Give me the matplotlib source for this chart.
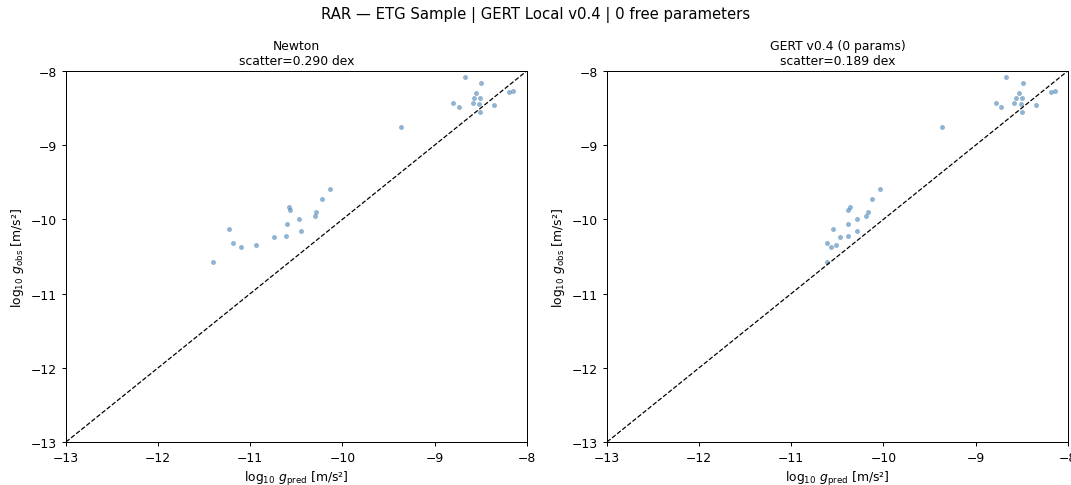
import matplotlib
matplotlib.use("Agg")
import matplotlib.pyplot as plt
import numpy as np

# observed accelerations (log10 m/s^2), shared by both panels
g_obs = [-10.57, -10.13, -10.32, -10.37, -10.34, -10.24, -10.22, -10.06,
         -9.84, -9.88, -10.00, -10.16, -9.96, -9.90, -9.72, -9.59,
         -8.755,
         -8.085, -8.16, -8.43, -8.49, -8.30, -8.36, -8.36, -8.43,
         -8.445, -8.56, -8.46, -8.28, -8.27]

# Newtonian prediction
g_newton = [-11.41, -11.23, -11.19, -11.10, -10.94, -10.74, -10.61, -10.60,
            -10.58, -10.57, -10.47, -10.45, -10.30, -10.29, -10.22, -10.13,
            -9.37,
            -8.67, -8.50, -8.80, -8.74, -8.55, -8.575, -8.51, -8.58,
            -8.52, -8.51, -8.355, -8.19, -8.15]

# GERT v0.4 prediction
g_gert = [-10.61, -10.55, -10.61, -10.57, -10.52, -10.47, -10.39, -10.38,
          -10.36, -10.38, -10.29, -10.285, -10.19, -10.17, -10.12, -10.04,
          -9.37,
          -8.67, -8.49, -8.78, -8.73, -8.53, -8.56, -8.495, -8.58,
          -8.51, -8.495, -8.34, -8.18, -8.14]

panels = [
    ("Newton", 0.290, g_newton),
    ("GERT v0.4 (0 params)", 0.189, g_gert),
]

DPI = 89
fig, axes = plt.subplots(1, 2, figsize=(1071 / DPI, 486 / DPI), dpi=DPI)
fig.subplots_adjust(left=0.0616, right=0.997, bottom=0.0885, top=0.852, wspace=0.174)

for ax, (name, scat, g_pred) in zip(axes, panels):
    ax.scatter(g_pred, g_obs, s=16, color="steelblue", alpha=0.6, linewidths=0)
    ax.plot([-13, -8], [-13, -8], "k--", lw=1)
    ax.set_xlim(-13, -8)
    ax.set_ylim(-13, -8)
    ax.set_xticks(np.arange(-13, -7))
    ax.set_yticks(np.arange(-13, -7))
    ax.set_xlabel(r"$\log_{10}\, g_{\rm pred}$ [m/s²]")
    ax.set_ylabel(r"$\log_{10}\, g_{\rm obs}$ [m/s²]")
    ax.set_title(f"{name}\nscatter={scat:.3f} dex", fontsize=10)

fig.suptitle("RAR — ETG Sample | GERT Local v0.4 | 0 free parameters", fontsize=12, y=0.985)
fig.savefig("out.png", dpi=DPI)
